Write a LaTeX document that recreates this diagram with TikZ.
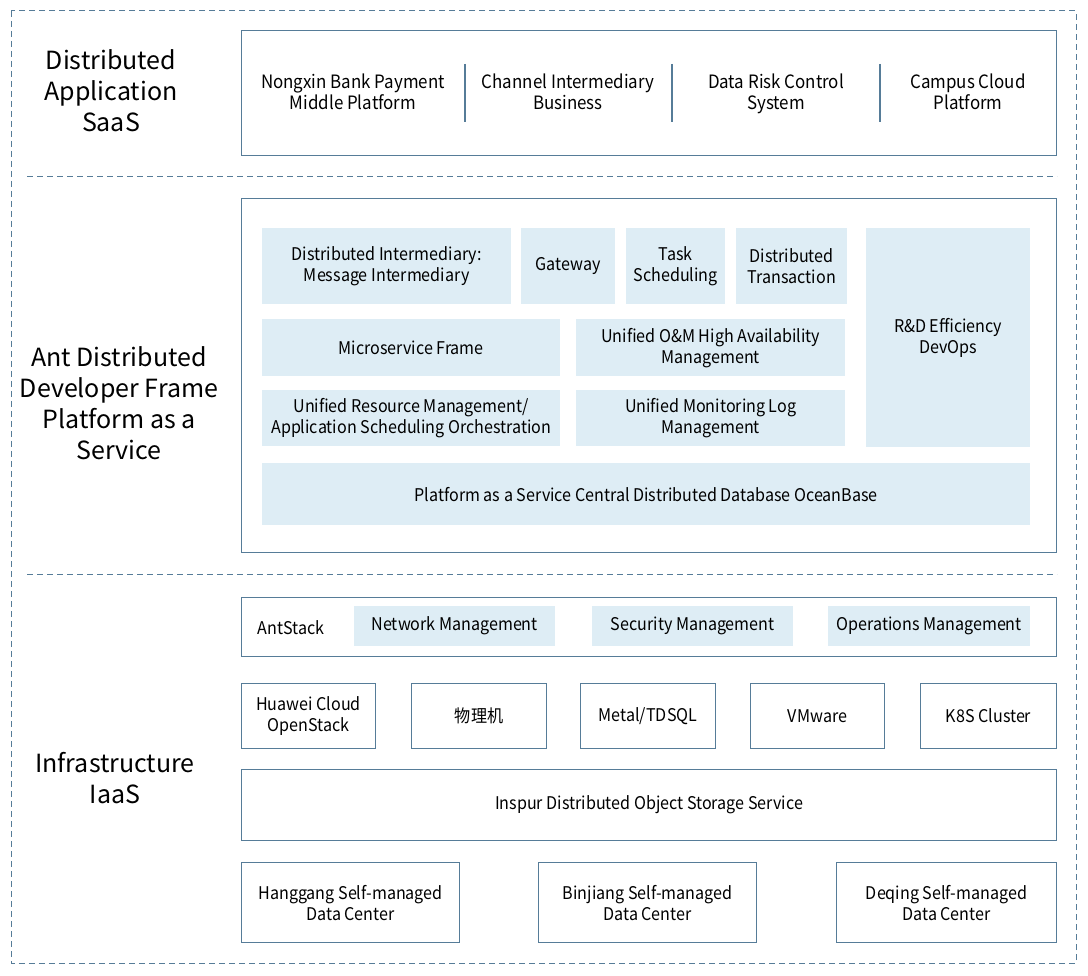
\documentclass[tikz,border=0pt]{standalone}
\usepackage{fontspec}
\setmainfont{Noto Sans CJK SC}
\newfontfamily\cellfont[FakeStretch=0.92]{Noto Sans CJK SC}
\usetikzlibrary{positioning}

\definecolor{edgeblue}{RGB}{86,124,152}
\definecolor{cellblue}{RGB}{222,237,245}

\begin{document}
\begin{tikzpicture}
  [x=1pt,y=-1pt,
   layerN/.style={draw=edgeblue,line width=1.1pt,anchor=north west,inner sep=0pt,
     align=center,font=\cellfont\fontsize{17.5}{21}\selectfont},
   cellN/.style={fill=cellblue,anchor=north west,inner sep=0pt,
     align=center,font=\cellfont\fontsize{17.5}{21}\selectfont},
   appN/.style={align=center,font=\cellfont\fontsize{18.4}{21}\selectfont},
   tierN/.style={align=center,font=\fontsize{25}{31}\selectfont},
   sepL/.style={draw=edgeblue,line width=1pt,dash pattern=on 6pt off 4pt}]

  \useasboundingbox (0,0) rectangle (1088,976);
  \fill[white] (0,0) rectangle (1088,976);

  % outer frame and layer separators
  \draw[sepL] (11,11) rectangle (1076,963);
  \draw[sepL] (27,177) -- (1057,177);
  \draw[sepL] (27,574) -- (1057,574);

  % layer titles
  \node[tierN] (saasT) at (111,91) {Distributed\\Application\\SaaS};
  \node[tierN] (paasT) at (119,403) {Ant Distributed\\Developer Frame\\Platform as a\\Service};
  \node[tierN] (iaasT) at (115,778) {Infrastructure\\IaaS};

  % SaaS
  \node[layerN,minimum width=815pt,minimum height=125pt] (saas) at (241,30) {};
  \node[appN] (app1) at (353,92) {Nongxin Bank Payment\\Middle Platform};
  \node[appN] (app2) at (568,92) {Channel Intermediary\\Business};
  \node[appN] (app3) at (776,94) {Data Risk Control\\System};
  \node[appN] (app4) at (968,92) {Campus Cloud\\Platform};
  \foreach \dx in {465,672,880}
    \draw[edgeblue,line width=1.1pt] (\dx,64) -- (\dx,122);

  % PaaS
  \node[layerN,minimum width=815pt,minimum height=354pt] (paas) at (241,198) {};
  \node[cellN,minimum width=249pt,minimum height=76pt] (mq) at (262,228) {Distributed Intermediary:\\Message Intermediary};
  \node[cellN,minimum width=94pt,minimum height=76pt] (gw) at (521,228) {Gateway};
  \node[cellN,minimum width=99pt,minimum height=76pt] (task) at (626,228) {Task\\Scheduling};
  \node[cellN,minimum width=111pt,minimum height=76pt] (dtx) at (736,228) {Distributed\\Transaction};
  \node[cellN,minimum width=164pt,minimum height=219pt] (devops) at (866,228) {R\&D Efficiency\\DevOps};
  \node[cellN,minimum width=298pt,minimum height=57pt] (msf) at (262,319) {Microservice Frame};
  \node[cellN,minimum width=269pt,minimum height=57pt] (oam) at (576,319) {Unified O\&M High Availability\\Management};
  \node[cellN,minimum width=298pt,minimum height=56pt] (res) at (262,390) {Unified Resource Management/\\Application Scheduling Orchestration};
  \node[cellN,minimum width=269pt,minimum height=56pt] (mon) at (576,390) {Unified Monitoring Log\\Management};
  \node[cellN,minimum width=768pt,minimum height=62pt] (ob) at (262,463) {Platform as a Service Central Distributed Database OceanBase};

  % IaaS
  \node[layerN,minimum width=815pt,minimum height=59pt] (ant) at (241,597) {};
  \node[font=\cellfont\fontsize{17.5}{21}\selectfont] (antT) at (291,628) {AntStack};
  \node[cellN,minimum width=201pt,minimum height=40pt] (net) at (354,606) {Network Management};
  \node[cellN,minimum width=201pt,minimum height=40pt] (sec) at (592,606) {Security Management};
  \node[cellN,minimum width=202pt,minimum height=40pt] (ops) at (828,606) {Operations Management};

  \node[layerN,minimum width=134pt,minimum height=65pt] (hw) at (241,683) {Huawei Cloud\\OpenStack};
  \node[layerN,minimum width=135pt,minimum height=65pt] (pm) at (411,683) {物理机};
  \node[layerN,minimum width=135pt,minimum height=65pt] (tdsql) at (580,683) {Metal/TDSQL};
  \node[layerN,minimum width=134pt,minimum height=65pt] (vmw) at (750,683) {VMware};
  \node[layerN,minimum width=136pt,minimum height=65pt] (k8s) at (920,683) {K8S Cluster};

  \node[layerN,minimum width=815pt,minimum height=71pt] (oss) at (241,769) {Inspur Distributed Object Storage Service};

  \node[layerN,minimum width=218pt,minimum height=80pt] (hg) at (241,862) {Hanggang Self-managed\\Data Center};
  \node[layerN,minimum width=218pt,minimum height=80pt] (bj) at (538,862) {Binjiang Self-managed\\Data Center};
  \node[layerN,minimum width=220pt,minimum height=80pt] (dq) at (836,862) {Deqing Self-managed\\Data Center};
\end{tikzpicture}
\end{document}
